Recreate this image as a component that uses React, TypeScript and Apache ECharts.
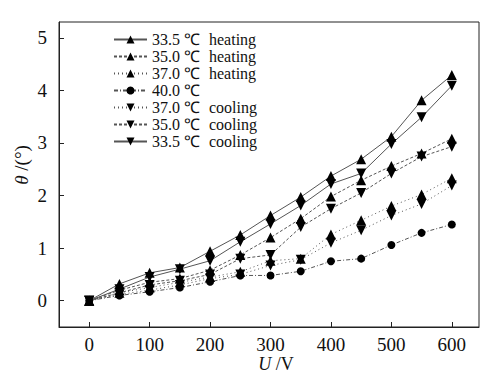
import React, { useEffect, useRef } from "react";
import * as echarts from "echarts";

const U = [0, 50, 100, 150, 200, 250, 300, 350, 400, 450, 500, 550, 600];
const heat335 = [0, 0.32, 0.53, 0.63, 0.94, 1.25, 1.62, 1.97, 2.37, 2.69, 3.12, 3.81, 4.29];
const heat350 = [0, 0.2, 0.35, 0.42, 0.58, 0.87, 1.2, 1.56, 1.98, 2.29, 2.56, 2.8, 3.08];
const heat370 = [0, 0.15, 0.25, 0.35, 0.45, 0.55, 0.76, 0.8, 1.26, 1.53, 1.8, 2.02, 2.33];
const t400 = [0, 0.1, 0.17, 0.25, 0.36, 0.48, 0.48, 0.56, 0.75, 0.8, 1.06, 1.29, 1.45];
const cool370 = [0, 0.12, 0.2, 0.3, 0.42, 0.5, 0.67, 0.78, 1.1, 1.34, 1.62, 1.84, 2.19];
const cool350 = [0, 0.15, 0.3, 0.38, 0.5, 0.8, 0.87, 1.4, 1.75, 2.05, 2.42, 2.74, 2.93];
const cool335 = [0, 0.22, 0.45, 0.6, 0.76, 1.12, 1.46, 1.81, 2.22, 2.42, 2.98, 3.49, 4.09];

const xTicks = [0, 100, 200, 300, 400, 500, 600];
const yTicks = [0, 1, 2, 3, 4, 5];

const temps = ["33.5", "35.0", "37.0", "40.0", "37.0", "35.0", "33.5"];
const modes = ["heating", "heating", "heating", "", "cooling", "cooling", "cooling"];
const seriesData = [heat335, heat350, heat370, t400, cool370, cool350, cool335];

const FONT = "Liberation Serif";

export default function App() {
  const ref = useRef<HTMLDivElement>(null);
  useEffect(() => {
    document.body.style.margin = "0";
    const chart = echarts.init(ref.current!, null, { renderer: "svg" });
    const styles = [
      { type: "solid", sym: "triangle", rot: 0, size: 10 },
      { type: [3, 2], sym: "triangle", rot: 0, size: 10 },
      { type: [1, 3], sym: "triangle", rot: 0, size: 10 },
      { type: [4, 2, 1, 2], sym: "circle", rot: 0, size: 8 },
      { type: [1, 3], sym: "triangle", rot: 180, size: 10 },
      { type: [3, 2], sym: "triangle", rot: 180, size: 10 },
      { type: "solid", sym: "triangle", rot: 180, size: 10 },
    ];
    const names = temps.map((t, i) => (modes[i] ? `${t} ℃ ${modes[i]}` : `${t} ℃`));
    const series = seriesData.map((d, i) => ({
      name: names[i],
      type: "line",
      data: U.map((u, j) => [u, d[j]]),
      symbol: styles[i].sym,
      symbolRotate: styles[i].rot,
      symbolSize: styles[i].size,
      showAllSymbol: true,
      lineStyle: { color: "#555", width: 1, type: styles[i].type as any },
      itemStyle: { color: "#000" },
      z: 2,
    }));
    chart.setOption({
      animation: false,
      backgroundColor: "#fff",
      grid: {
        left: 59,
        right: 5,
        top: 22,
        bottom: 47,
        show: true,
        borderColor: "#222",
        borderWidth: 1,
        backgroundColor: "transparent",
      },
      legend: {
        orient: "vertical",
        left: 108,
        top: 26,
        itemWidth: 33,
        itemHeight: 10,
        itemGap: 0,
        data: names,
        formatter: (name: string) => {
          const i = names.indexOf(name);
          return `{a|${temps[i]} ℃}{b|${modes[i]}}`;
        },
        textStyle: {
          fontFamily: FONT,
          fontSize: 16,
          color: "#111",
          lineHeight: 17,
          rich: {
            a: { width: 57, fontFamily: FONT, fontSize: 16, color: "#111", lineHeight: 17 },
            b: { fontFamily: FONT, fontSize: 16, color: "#111", lineHeight: 17 },
          },
        },
      },
      xAxis: {
        type: "value",
        min: -50,
        max: 645,
        splitLine: { show: false },
        axisLine: { onZero: false, lineStyle: { color: "#222" } },
        axisTick: { inside: true, length: 5, customValues: xTicks, lineStyle: { color: "#222" } },
        axisLabel: {
          customValues: xTicks,
          fontFamily: FONT,
          fontSize: 19,
          lineHeight: 18,
          color: "#111",
          margin: 8,
        },
      },
      yAxis: {
        type: "value",
        min: -0.5,
        max: 5.3,
        splitLine: { show: false },
        axisLine: { onZero: false, lineStyle: { color: "#222" } },
        axisTick: { inside: true, length: 5, customValues: yTicks, lineStyle: { color: "#222" } },
        axisLabel: {
          customValues: yTicks,
          fontFamily: FONT,
          fontSize: 19,
          color: "#111",
          margin: 12,
        },
      },
      graphic: [
        {
          type: "text",
          x: 276,
          y: 364,
          style: {
            text: "{i|U} /V",
            align: "center",
            verticalAlign: "middle",
            fontFamily: FONT,
            fontSize: 18,
            lineHeight: 17,
            fill: "#111",
            rich: { i: { fontStyle: "italic", fontFamily: FONT, fontSize: 18, lineHeight: 17, fill: "#111" } },
          },
        },
        {
          type: "text",
          x: 21,
          y: 165,
          rotation: Math.PI / 2,
          style: {
            text: "{i|θ} /(°)",
            align: "center",
            verticalAlign: "middle",
            fontFamily: FONT,
            fontSize: 19,
            fill: "#111",
            rich: { i: { fontStyle: "italic", fontFamily: FONT, fontSize: 19, fill: "#111" } },
          },
        },
      ],
      series,
    });
    return () => chart.dispose();
  }, []);
  return <div ref={ref} style={{ width: 484, height: 374 }} />;
}
